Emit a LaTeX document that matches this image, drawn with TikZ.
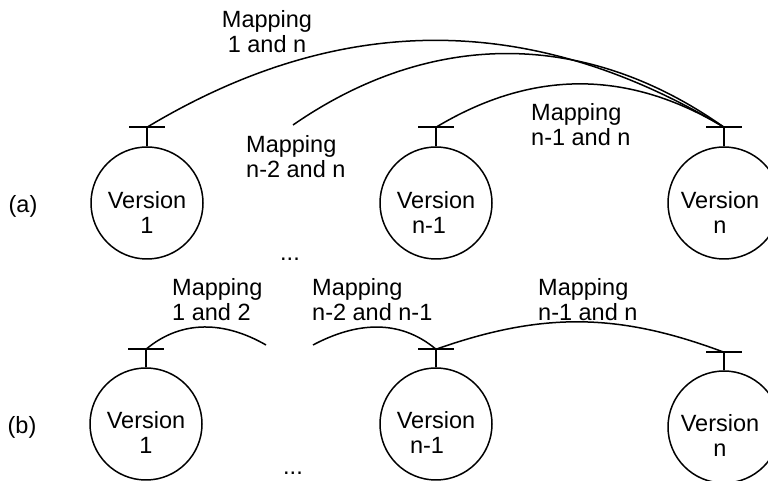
\documentclass[tikz,border=0pt]{standalone}
\usepackage{fontspec}
\setmainfont{Liberation Sans}
\begin{document}
\begin{tikzpicture}[x=1pt,y=1pt,
  every node/.style={font=\fontsize{23.5}{25}\selectfont},
  ver/.style={circle, draw, line width=1.5pt, minimum size=112pt, inner sep=0pt},
  vtxt/.style={align=center, inner sep=0pt},
  maplbl/.style={align=left, inner sep=0pt, anchor=north west},
  link/.style={line width=1.5pt}]
\clip (0,0) rectangle (768,481);
% ---- row (a)
\node[ver] (v1a) at (147,278) {};
\node[ver] (vn1a) at (436,278) {};
\node[ver] (vna) at (724,278) {};
\node[vtxt] (l1a) at ([yshift=-9pt]v1a.center) {Version\\1};
\node[vtxt] (ln1a) at ([yshift=-9pt]vn1a.center) {Version\\n-1\hspace*{14pt}};
\node[vtxt] (lna) at ([xshift=-4pt,yshift=-9pt]vna.center) {Version\\n};
\foreach \v in {v1a,vn1a,vna}{
  \draw[link] (\v.north) -- ++(0,19) coordinate (t\v);
  \draw[link] ([xshift=-18pt]t\v) -- ([xshift=18pt]t\v);
}
\draw[link] (tv1a) to[bend left=31] (tvna);
\coordinate (s2a) at (293,356);
\draw[link] (s2a) to[bend left=35] (tvna);
\draw[link] (tvn1a) to[bend left=31] (tvna);
\node[vtxt, anchor=north] (m1n) at (267,471) {Mapping\\1 and n};
\node[maplbl] (m2n) at (246,346) {Mapping\\n-2 and n};
\node[maplbl] (mn1n) at (531,378) {Mapping\\n-1 and n};
\node (la) at (23,275) {(a)};
\node[anchor=base] (da) at (290,220.5) {...};
% ---- row (b)
\node[ver] (v1b) at (146,57) {};
\node[ver] (vn1b) at (436,57) {};
\node[ver] (vnb) at (724,54) {};
\node[vtxt] (l1b) at ([yshift=-8pt]v1b.center) {Version\\1};
\node[vtxt] (ln1b) at ([yshift=-8pt]vn1b.center) {Version\\n-1\hspace*{18pt}};
\node[vtxt] (lnb) at ([xshift=-4pt,yshift=-8pt]vnb.center) {Version\\n};
\foreach \v in {v1b,vn1b,vnb}{
  \draw[link] (\v.north) -- ++(0,18) coordinate (t\v);
  \draw[link] ([xshift=-18pt]t\v) -- ([xshift=18pt]t\v);
}
\coordinate (e12) at (266,136);
\draw[link] (tv1b) to[out=40, in=150] (e12);
\coordinate (s23) at (313,136);
\draw[link] (s23) to[out=28, in=140] (tvn1b);
\draw[link] (tvn1b) to[bend left=20] (tvnb);
\node[maplbl] (m12) at (172,203) {Mapping\\1 and 2};
\node[maplbl] (m23) at (312,203) {Mapping\\n-2 and n-1};
\node[maplbl] (mn1nb) at (538,203) {Mapping\\n-1 and n};
\node (lb) at (22,54) {(b)};
\node[anchor=base] (db) at (293,6) {...};
\end{tikzpicture}
\end{document}
